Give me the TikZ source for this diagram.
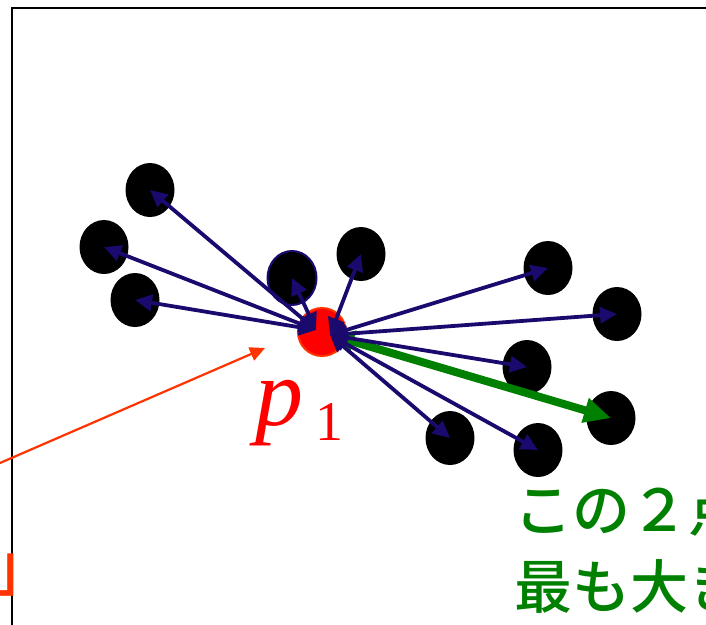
\documentclass[tikz,border=0pt]{standalone}
\usepackage{fontspec}
\setmainfont{Liberation Serif}
\newfontfamily\jpfont{Noto Sans CJK JP Medium}
\usetikzlibrary{arrows.meta,shapes.geometric}
\definecolor{navy}{RGB}{26,10,110}
\definecolor{grn}{RGB}{0,128,0}
\definecolor{redor}{RGB}{255,51,0}
\definecolor{redfill}{RGB}{255,0,0}
\tikzset{
  dot/.style={ellipse,fill=black,minimum width=49pt,minimum height=54pt,inner sep=0pt},
  bluearr/.style={draw=navy,line width=3.8pt,{Triangle[length=17pt,width=16pt]}-{Triangle[length=17pt,width=16pt]}},
  greenarr/.style={draw=grn,line width=8pt,{Triangle[length=20pt,width=22pt]}-{Triangle[length=27pt,width=24pt]}},
  orarr/.style={draw=redor,line width=2.2pt,-{Triangle[length=15pt,width=14pt]}},
}
\begin{document}
\begin{tikzpicture}[x=1pt,y=-1pt]
\clip (0,0) rectangle (706,624);
\fill[white] (0,0) rectangle (706,624);
\draw[line width=2pt] (12,8) rectangle (760,700);
% dots
\node[dot] (d1) at (150,190) {};
\node[dot] (d2) at (104,247) {};
\node[dot] (d3) at (135,300) {};
\node[dot,draw=navy,line width=2pt] (d4) at (292,278) {};
\node[dot] (d5) at (361,254) {};
\node[dot] (d6) at (548,268) {};
\node[dot] (d7) at (617,314) {};
\node[dot] (d8) at (527,367) {};
\node[dot] (d9) at (611,418) {};
\node[dot] (d10) at (450,438) {};
\node[dot] (d11) at (538,450) {};
% red point
\node[circle,fill=redfill,draw=redor,line width=2pt,minimum size=48pt,inner sep=0pt] (p) at (322,332) {};
\coordinate (cl) at (316,330);
\coordinate (cr) at (330,335);
\coordinate (cg) at (334,336);
% arrows
\draw[greenarr] (cg) -- (d9.center);
\draw[bluearr] (cl) -- (d1.center);
\draw[bluearr] (cl) -- (d2.center);
\draw[bluearr] (cl) -- (d3.center);
\draw[bluearr] (cl) -- (d4.center);
\draw[bluearr] (cr) -- (d5.center);
\draw[bluearr] (cr) -- (d6.center);
\draw[bluearr] (cr) -- (d7.center);
\draw[bluearr] (cr) -- (d8.center);
\draw[bluearr] (cr) -- (d10.center);
\draw[bluearr] (cr) -- (d11.center);
% label p1
\node[anchor=base west,inner sep=0pt,text=redfill] (lab) at (255,425)
  {{\fontsize{96}{96}\selectfont\itshape p}\hspace{12pt}{\fontsize{56}{56}\selectfont\raisebox{-15pt}{1}}};
% orange arrow
\coordinate (ostart) at (-30,476);
\coordinate (otip) at (265,348);
\draw[orarr] (ostart) -- (otip);
% bracket fragment
\node[anchor=base west,inner sep=0pt,text=redor,font=\jpfont\fontsize{66}{66}\selectfont] (br) at (-10,590) {」};
% green text
\node[anchor=base west,inner sep=0pt,align=left,text=grn,font=\jpfont\fontsize{58}{77}\selectfont] (gt) at (514,608) {この２点\\最も大き};
\end{tikzpicture}
\end{document}
